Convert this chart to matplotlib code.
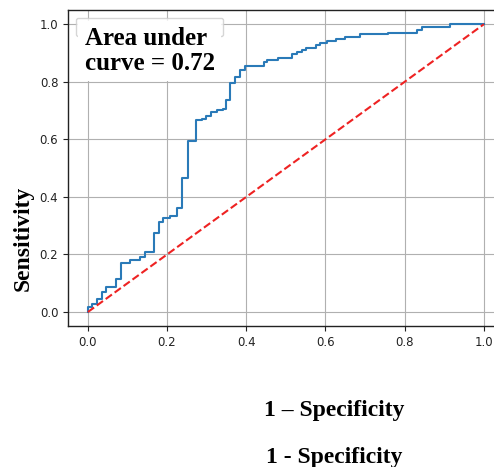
import matplotlib
matplotlib.use("Agg")
import matplotlib.pyplot as plt

# ROC steps: false positive rate where the curve jumps, true positive rate after the jump
fpr = [0.0, 0.0, 0.010, 0.023, 0.035, 0.047, 0.071, 0.083, 0.106, 0.131, 0.144,
       0.167, 0.179, 0.190, 0.207, 0.226, 0.239, 0.253, 0.274, 0.287, 0.298,
       0.312, 0.325, 0.342, 0.348, 0.360, 0.371, 0.384, 0.396, 0.444, 0.453,
       0.481, 0.516, 0.527, 0.540, 0.552, 0.576, 0.586, 0.603, 0.626, 0.649,
       0.687, 0.758, 0.830, 0.843, 0.914, 1.0]
tpr = [0.0, 0.018, 0.028, 0.044, 0.069, 0.086, 0.116, 0.171, 0.181, 0.192, 0.209,
       0.273, 0.314, 0.325, 0.334, 0.360, 0.464, 0.595, 0.667, 0.672, 0.681,
       0.696, 0.701, 0.707, 0.738, 0.794, 0.817, 0.840, 0.854, 0.869, 0.877,
       0.883, 0.895, 0.904, 0.912, 0.918, 0.929, 0.935, 0.941, 0.948, 0.956,
       0.965, 0.971, 0.979, 0.991, 1.0, 1.0]
chance = [0.0, 1.0]
ticks = [0.0, 0.2, 0.4, 0.6, 0.8, 1.0]
auc_text = "Area under\ncurve = 0.72"

serif = "Liberation Serif"

fig = plt.figure(figsize=(4.94, 4.67), dpi=100)
ax = fig.add_axes([0.1377, 0.301, 0.882, 0.678])

ax.step(fpr, tpr, where="post", color="#2a7ab8", lw=1.5, label="ROC curve (area = 0.72)")
ax.plot(chance, chance, color="#ee2222", ls="--", lw=1.5)

ax.set_xlim(-0.05, 1.05)
ax.set_ylim(-0.05, 1.05)
ax.set_xticks(ticks)
ax.set_yticks(ticks)
ax.tick_params(labelsize=8.5, colors="#222222", length=3.5)
ax.grid(True, color="#b0b0b0", lw=0.8)
for s in ax.spines.values():
    s.set_color("#222222")
    s.set_linewidth(1.0)

# legend sits behind the AUC box, only its corner shows
leg = ax.legend(loc="upper left", fontsize=7.5, handlelength=0.2, borderaxespad=0.75)
leg.get_frame().set_edgecolor("#cccccc")

ax.text(-0.008, 0.99, auc_text, fontsize=18, fontweight="bold", family=serif,
        ha="left", va="top", linespacing=1.12, zorder=10,
        bbox=dict(facecolor="white", edgecolor="none", pad=4.5))

fig.text(0.046, 0.49, "Sensitivity", rotation=90, fontsize=17, fontweight="bold",
         family=serif, ha="center", va="center")
fig.text(0.676, 0.122, "1 \u2013 Specificity", fontsize=17, fontweight="bold",
         family=serif, ha="center", va="center")
fig.text(0.676, 0.021, "1 - Specificity", fontsize=17, fontweight="bold",
         family=serif, ha="center", va="center")

fig.savefig("out.png", dpi=100)
